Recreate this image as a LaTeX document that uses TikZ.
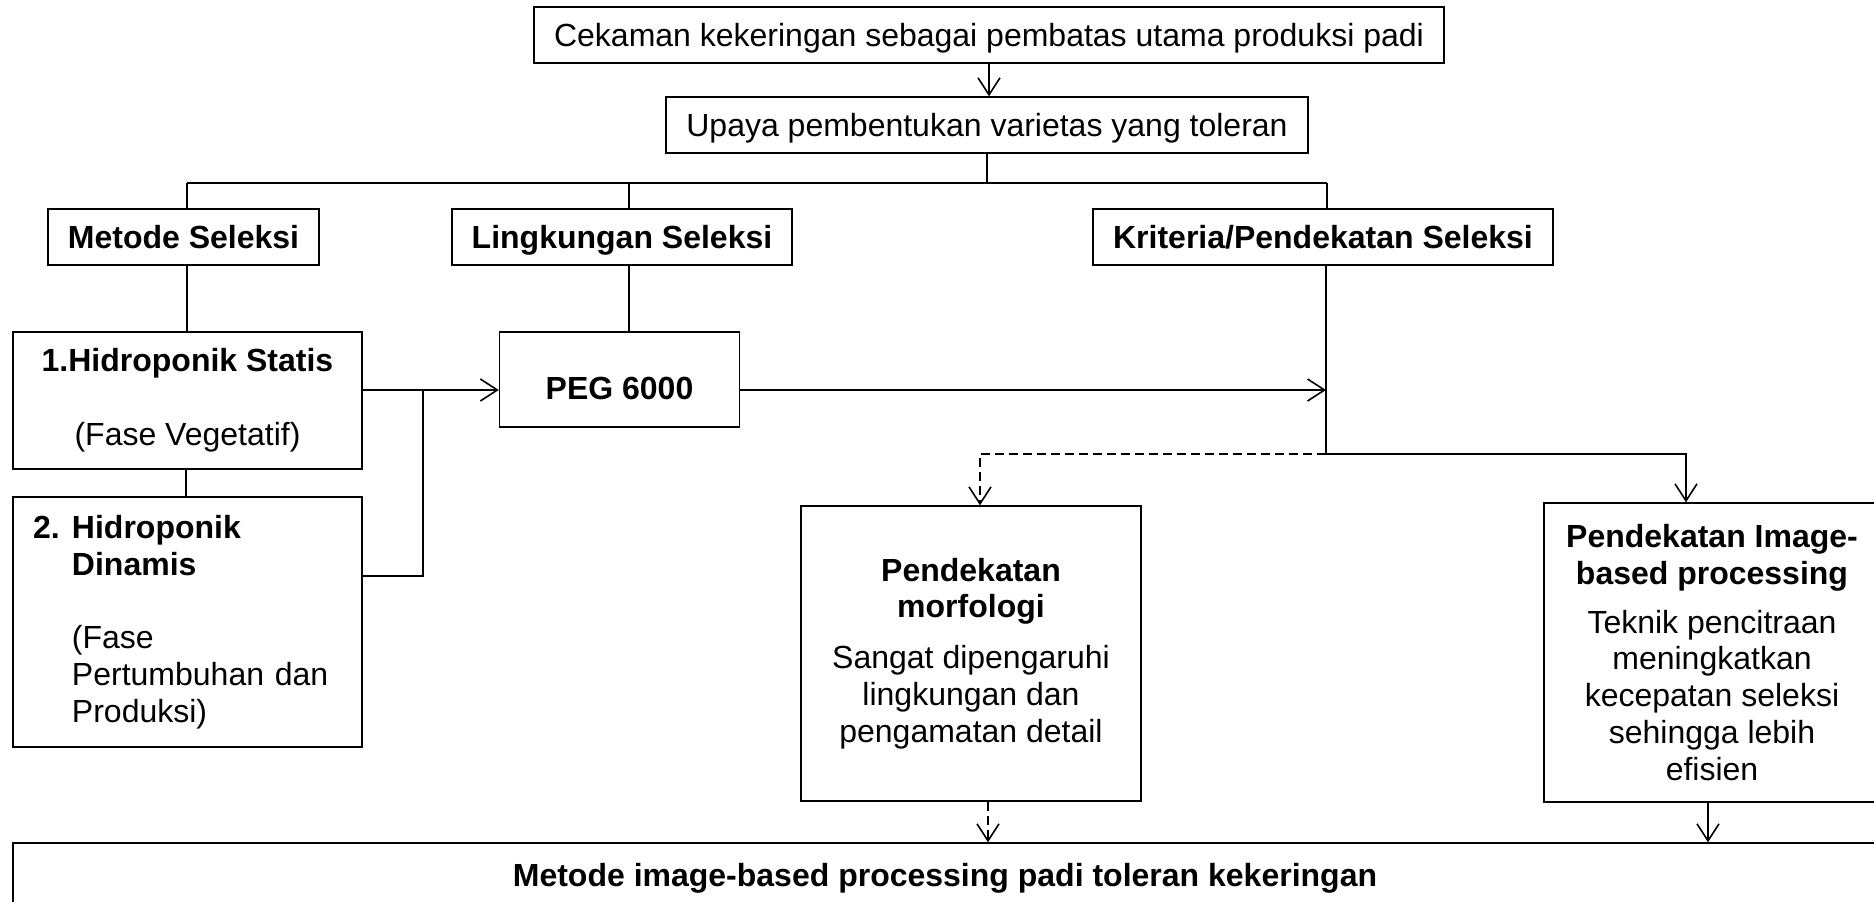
\documentclass[tikz,border=0pt]{standalone}
\usepackage{fontspec}
\setmainfont{Liberation Sans}
\usetikzlibrary{arrows.meta}
\begin{document}
\begin{tikzpicture}[x=1pt,y=-1pt,
  every node/.style={font=\fontsize{32}{36.8}\selectfont},
  box/.style={draw, line width=1.4pt, inner sep=0pt, align=center},
  ln/.style={line width=1.4pt},
  tk/.style={line width=2.2pt},
  arr/.style={-{Straight Barb[length=17pt,width=22pt,line width=1.6pt]}},
  dsh/.style={dash pattern=on 9pt off 5pt},
  one/.style={text height=30pt, text depth=7pt}
]
\useasboundingbox (0,0) rectangle (1874,902);

% boxes
\node[box, one, minimum width=910pt, minimum height=56pt] (top) at (989,35)
  {Cekaman kekeringan sebagai pembatas utama produksi padi};
\node[box, one, minimum width=642pt, minimum height=56pt] (upaya) at (987,125)
  {Upaya pembentukan varietas yang toleran};
\node[box, one, minimum width=271pt, minimum height=56pt] (metode) at (183.5,237)
  {\textbf{Metode Seleksi}};
\node[box, one, minimum width=340pt, minimum height=56pt] (lingk) at (622,237)
  {\textbf{Lingkungan Seleksi}};
\node[box, one, minimum width=460pt, minimum height=56pt] (krit) at (1323,237)
  {\textbf{Kriteria/Pendekatan Seleksi}};
\node[box, minimum width=349pt, minimum height=137pt] (box1) at (187.5,400.5)
  {\textbf{1.Hidroponik Statis}\\[36.8pt](Fase Vegetatif)};
\node[box, align=left, text width=309pt, inner xsep=20pt, minimum height=250pt] (box2) at (187.5,622)
  {\makebox[39pt][l]{\textbf{2.}}\textbf{Hidroponik}\\\hspace*{39pt}\textbf{Dinamis}\\[36.8pt]\hspace*{39pt}(Fase\\\hspace*{39pt}Pertumbuhan dan\\\hspace*{39pt}Produksi)};
\node[box, text height=46pt, text depth=7pt, minimum width=240pt, minimum height=95pt] (peg) at (619.5,379.5)
  {\textbf{PEG 6000}};
\node[box, minimum width=340pt, minimum height=295pt] (morf) at (971,653.5)
  {\textbf{Pendekatan}\\\textbf{morfologi}\\[14pt]Sangat dipengaruhi\\lingkungan dan\\pengamatan detail};
\node[box, minimum width=336pt, minimum height=299pt] (img) at (1712,652.5)
  {\textbf{Pendekatan Image-}\\\textbf{based processing}\\[12pt]Teknik pencitraan\\meningkatkan\\kecepatan seleksi\\sehingga lebih\\efisien};
\node[box, one, minimum width=1864pt, minimum height=64pt] (bottom) at (945,875)
  {\textbf{Metode image-based processing padi toleran kekeringan}};

% helper coordinates
\coordinate (bar) at (988,183);
\coordinate (barL) at (187,183);
\coordinate (barR) at (1327,183);
\coordinate (lx) at (629,0);
\coordinate (a1) at (0,390);
\coordinate (j) at (423,390);
\coordinate (j2) at (423,576);
\coordinate (kv) at (1326,454);
\coordinate (mx) at (980,0);
\coordinate (ix) at (1686,0);
\coordinate (bx1) at (988,0);
\coordinate (bx2) at (1708,0);
\coordinate (cx) at (186,0);

% connectors
\draw[ln, arr] (top.south) -- (top.south |- upaya.north);
\draw[ln] (upaya.south) -- (upaya.south |- bar);
\draw[tk] (barL) -- (barR);
\draw[ln] (barL) -- (barL |- metode.north);
\draw[ln] (lx |- bar) -- (lx |- lingk.north);
\draw[ln] (barR) -- (barR |- krit.north);
\draw[ln] (barL |- metode.south) -- (barL |- box1.north);
\draw[ln] (cx |- box1.south) -- (cx |- box2.north);
\draw[ln] (lx |- lingk.south) -- (lx |- peg.north);
\draw[tk, arr] (box1.east |- a1) -- (peg.west |- a1);
\draw[ln] (j) -- (j2) -- (box2.east |- j2);
\draw[tk, arr] (peg.east |- a1) -- (kv |- a1);
\draw[ln] (kv |- krit.south) -- (kv);
\draw[ln, dsh, arr] (kv) -| (mx |- morf.north);
\draw[ln, arr] (kv) -| (ix |- img.north);
\draw[ln, dsh, arr] (bx1 |- morf.south) -- (bx1 |- bottom.north);
\draw[ln, arr] (bx2 |- img.south) -- (bx2 |- bottom.north);
\end{tikzpicture}
\end{document}
